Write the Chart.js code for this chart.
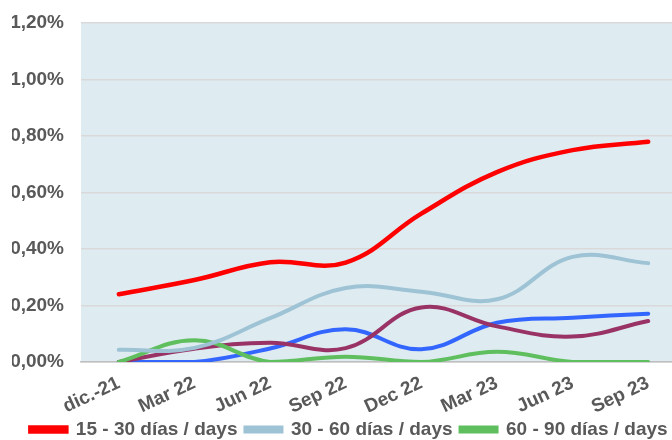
<!DOCTYPE html>
<html>
<head>
<meta charset="utf-8">
<script src="https://cdn.jsdelivr.net/npm/chart.js@4/dist/chart.umd.min.js"></script>
<style>
html,body{margin:0;padding:0;background:#fff;overflow:hidden;width:672px;height:440px;}
canvas{display:block;}
</style>
</head>
<body>
<canvas id="c" width="686" height="449"></canvas>
<script>
const categories = ["dic.-21","Mar 22","Jun 22","Sep 22","Dec 22","Mar 23","Jun 23","Sep 23"];
const yTicks = [0, 0.2, 0.4, 0.6, 0.8, 1.0, 1.2];
const s15_30 = [0.24, 0.29, 0.353, 0.352, 0.525, 0.672, 0.75, 0.78];
const s30_60 = [0.043, 0.05, 0.155, 0.262, 0.249, 0.222, 0.372, 0.35];
const s60_90 = [0.0, 0.077, 0.0, 0.019, 0.0, 0.036, 0.0, 0.0];
const sPurple = [0.0, 0.047, 0.068, 0.049, 0.193, 0.126, 0.09, 0.145];
const sBlue = [0.0, 0.0, 0.048, 0.116, 0.045, 0.139, 0.157, 0.171];
const seriesNames = ["15 - 30 días / days","30 - 60 días / days","60 - 90 días / days","90 - 120 días / days","120 - 150 días / days"];

const bgPlugin = {
  id: 'bg',
  beforeDraw(chart) {
    const {ctx, chartArea:a} = chart;
    ctx.save();
    ctx.fillStyle = '#DEEBF1';
    ctx.fillRect(a.left, a.top, a.right - a.left, a.bottom - a.top);
    ctx.restore();
  }
};

const mk = (label, data, color, width) => ({
  label, data, borderColor: color, backgroundColor: color,
  borderWidth: width, pointRadius: 0, tension: 0.4, fill: false,
  borderCapStyle: 'round'
});

const FONT = 'Liberation Sans, Arial, sans-serif';

new Chart(document.getElementById('c'), {
  type: 'line',
  data: {
    labels: categories,
    datasets: [
      mk(seriesNames[0], s15_30, '#FF0000', 4.5),
      mk(seriesNames[1], s30_60, '#9DC3D5', 4),
      mk(seriesNames[2], s60_90, '#5FBF5F', 4),
      mk(seriesNames[3], sPurple, '#993366', 4),
      mk(seriesNames[4], sBlue, '#3366FF', 4)
    ]
  },
  options: {
    responsive: false,
    devicePixelRatio: 1,
    animation: false,
    layout: { padding: { left: 12, top: 23, right: 0, bottom: 0 } },
    plugins: {
      tooltip: { enabled: false },
      legend: {
        position: 'bottom',
        labels: {
          filter: (item) => item.datasetIndex < 3,
          boxWidth: 36,
          boxHeight: 4,
          padding: 8,
          color: '#595959',
          font: { family: FONT, size: 19, weight: 'bold' }
        }
      }
    },
    scales: {
      x: {
        offset: true,
        grid: { display: false, drawTicks: false },
        border: { display: true, color: '#BFBFBF', width: 1.5 },
        afterFit: (axis) => { axis.height = 50; },
        ticks: {
          minRotation: 25, maxRotation: 25, padding: 10,
          color: '#595959',
          font: { family: FONT, size: 19, weight: 'bold' }
        }
      },
      y: {
        min: 0, max: 1.2,
        afterBuildTicks: (axis) => { axis.ticks = yTicks.map(v => ({ value: v })); },
        afterFit: (axis) => { axis.width = 69; axis.paddingTop = 0; axis.paddingBottom = 0; },
        grid: { color: '#D9D9D9', lineWidth: 1.5, drawTicks: false },
        border: { display: false },
        ticks: {
          padding: 17,
          color: '#595959',
          font: { family: FONT, size: 19, weight: 'bold' },
          callback: (v) => Number(v).toFixed(2).replace('.', ',') + '%'
        }
      }
    }
  },
  plugins: [bgPlugin]
});
</script>
</body>
</html>
